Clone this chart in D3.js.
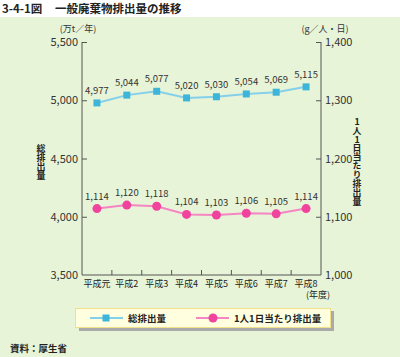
<!DOCTYPE html>
<html><head><meta charset="utf-8">
<script src="https://cdn.jsdelivr.net/npm/d3@7"></script>
<style>
body{margin:0;padding:0;background:#fff;}
svg{display:block;font-family:"Noto Sans CJK JP","Noto Sans",sans-serif;}
.vt{writing-mode:vertical-rl;text-orientation:upright;}
</style></head>
<body>
<svg id="c" width="400" height="357"></svg>
<script>
const categories = ["平成元","平成2","平成3","平成4","平成5","平成6","平成7","平成8"];
const totalEmission = [4977,5044,5077,5020,5030,5054,5069,5115];
const perCapita = [1114,1120,1118,1104,1103,1106,1105,1114];
const leftTicks = [3500,4000,4500,5000,5500];
const rightTicks = [1000,1100,1200,1300,1400];

const svg = d3.select("#c");
const fmt = d3.format(",");
const BLUE = "#3db5d9", BLUE_L = "#84d0ea", PINK = "#f0439e", PINK_L = "#f585c3";

svg.append("rect").attr("x",0).attr("y",17).attr("width",400).attr("height",340).attr("fill","#e7f4d8");

svg.append("text").attr("x",2).attr("y",13).attr("font-size",11.5).attr("font-weight","bold").attr("fill","#222").text("3-4-1図");
svg.append("text").attr("x",55).attr("y",13).attr("font-size",11.5).attr("font-weight","bold").attr("fill","#222").text("一般廃棄物排出量の推移");

const L = 82, R = 321, T = 42, B = 275;
const x = d3.scaleBand().domain(categories).range([L,R]);
const yL = d3.scaleLinear().domain([3500,5500]).range([B,T]);
const yR = d3.scaleLinear().domain([1000,1400]).range([B,T]);

const axisColor = "#555";
const gL = svg.append("g").attr("transform",`translate(${L},0)`)
  .call(d3.axisRight(yL).tickValues(leftTicks).tickSize(5).tickFormat(""));
gL.select(".domain").attr("stroke",axisColor).attr("d",`M0,${T}V${B}`);
gL.selectAll(".tick line").attr("stroke",axisColor);
gL.selectAll(".tick").filter(d=>d===3500).remove();
const gR = svg.append("g").attr("transform",`translate(${R},0)`)
  .call(d3.axisLeft(yR).tickValues(rightTicks).tickSize(5).tickFormat(""));
gR.select(".domain").attr("stroke",axisColor).attr("d",`M0,${T}V${B}`);
gR.selectAll(".tick line").attr("stroke",axisColor);
gR.selectAll(".tick").filter(d=>d===1000).remove();
const bandEdges = categories.slice(1).map(c=>x(c));
const gB = svg.append("g");
gB.append("line").attr("x1",L).attr("x2",R).attr("y1",B).attr("y2",B).attr("stroke",axisColor);
gB.selectAll("line.t").data(bandEdges).join("line").attr("class","t")
  .attr("x1",d=>d).attr("x2",d=>d).attr("y1",B).attr("y2",B-5).attr("stroke",axisColor);

svg.selectAll("text.lt").data(leftTicks).join("text").attr("class","lt")
  .attr("x",78).attr("y",d=>yL(d)+4).attr("text-anchor","end").attr("font-size",11).attr("fill","#333").text(d=>fmt(d));
svg.selectAll("text.rt").data(rightTicks).join("text").attr("class","rt")
  .attr("x",325).attr("y",d=>yR(d)+4).attr("text-anchor","start").attr("font-size",11).attr("fill","#333").text(d=>fmt(d));
svg.selectAll("text.xt").data(categories).join("text").attr("class","xt")
  .attr("x",d=>x(d)+x.bandwidth()/2).attr("y",287).attr("text-anchor","middle").attr("font-size",9).attr("fill","#222").text(d=>d);
svg.append("text").attr("x",318).attr("y",298).attr("text-anchor","middle").attr("font-size",9).attr("fill","#222").text("(年度)");

svg.append("text").attr("x",78).attr("y",31.5).attr("text-anchor","middle").attr("font-size",9).attr("fill","#333").text("(万t／年)");
svg.append("text").attr("x",325).attr("y",31.5).attr("text-anchor","middle").attr("font-size",9).attr("fill","#333").text("(g／人・日)");

svg.append("text").attr("class","vt").attr("x",41).attr("y",144).attr("font-size",9)
  .attr("font-weight","bold").attr("fill","#222").text("総排出量");
svg.append("text").attr("class","vt").attr("x",357).attr("y",117).attr("font-size",8.9)
  .attr("font-weight","bold").attr("fill","#222").text("1人1日当たり排出量");

const cx = d => x(d)+x.bandwidth()/2;
svg.append("path").datum(totalEmission.map((v,i)=>[cx(categories[i]),yL(v)]))
  .attr("d",d3.line()).attr("fill","none").attr("stroke",BLUE_L).attr("stroke-width",2);
svg.selectAll("rect.bm").data(totalEmission).join("rect").attr("class","bm")
  .attr("x",(d,i)=>cx(categories[i])-3.5).attr("y",d=>yL(d)-3.5).attr("width",7).attr("height",7).attr("fill",BLUE);
svg.selectAll("text.bl").data(totalEmission).join("text").attr("class","bl")
  .attr("x",(d,i)=>cx(categories[i])).attr("y",d=>yL(d)-9).attr("text-anchor","middle").attr("font-size",9.5).attr("fill","#333").text(d=>fmt(d));

svg.append("path").datum(perCapita.map((v,i)=>[cx(categories[i]),yR(v)]))
  .attr("d",d3.line()).attr("fill","none").attr("stroke",PINK_L).attr("stroke-width",2);
svg.selectAll("circle.pm").data(perCapita).join("circle").attr("class","pm")
  .attr("cx",(d,i)=>cx(categories[i])).attr("cy",d=>yR(d)).attr("r",4.5).attr("fill",PINK);
svg.selectAll("text.pl").data(perCapita).join("text").attr("class","pl")
  .attr("x",(d,i)=>cx(categories[i])).attr("y",d=>yR(d)-9).attr("text-anchor","middle").attr("font-size",9.5).attr("fill","#333").text(d=>fmt(d));

svg.append("rect").attr("x",79).attr("y",311).attr("width",255).attr("height",20).attr("fill","#aaa");
svg.append("rect").attr("x",75.5).attr("y",308.5).attr("width",255).attr("height",19).attr("fill","#ffffe0").attr("stroke","#f0e08a");
svg.append("line").attr("x1",90).attr("x2",123).attr("y1",318).attr("y2",318).attr("stroke",BLUE_L).attr("stroke-width",2);
svg.append("rect").attr("x",102.5).attr("y",314.5).attr("width",7).attr("height",7).attr("fill",BLUE);
svg.append("text").attr("x",128).attr("y",322).attr("font-size",9.5).attr("font-weight","bold").attr("fill","#222").text("総排出量");
svg.append("line").attr("x1",196).attr("x2",229).attr("y1",318).attr("y2",318).attr("stroke",PINK_L).attr("stroke-width",2);
svg.append("circle").attr("cx",213).attr("cy",318).attr("r",4.5).attr("fill",PINK);
svg.append("text").attr("x",234).attr("y",322).attr("font-size",9.5).attr("font-weight","bold").attr("fill","#222").text("1人1日当たり排出量");

svg.append("text").attr("x",10).attr("y",352).attr("font-size",9.5).attr("font-weight","bold").attr("fill","#222").text("資料：厚生省");
</script>
</body></html>
